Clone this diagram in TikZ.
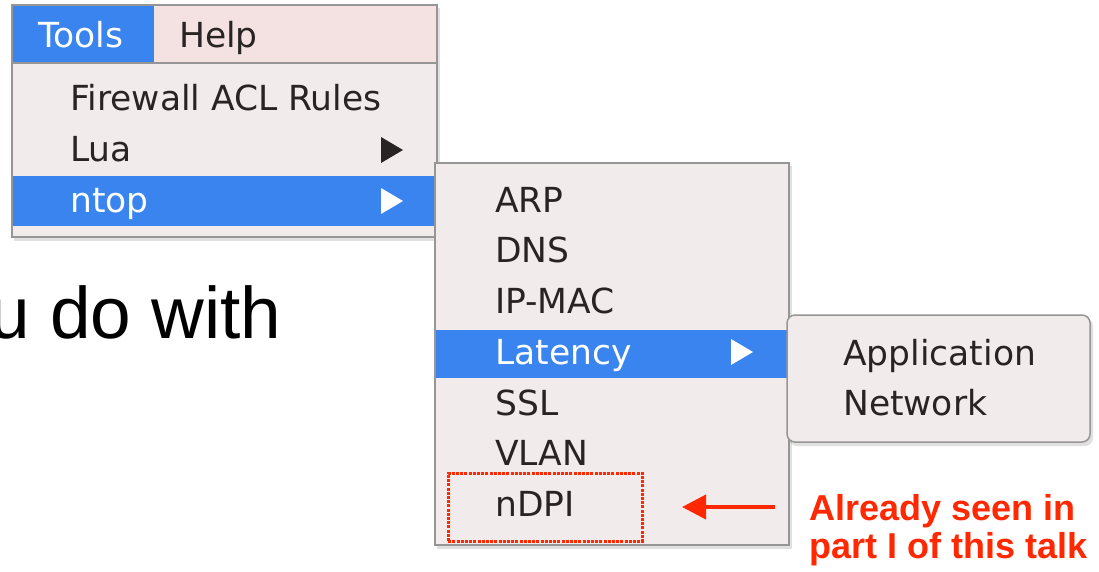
\documentclass[tikz,border=0pt]{standalone}
\usepackage{fontspec}
\setmainfont{DejaVu Sans}
\newfontfamily\arialfont{Liberation Sans}
\usetikzlibrary{arrows.meta}
\definecolor{hl}{RGB}{58,132,240}
\definecolor{menubg}{RGB}{242,235,235}
\definecolor{barbg}{RGB}{244,226,226}
\definecolor{mtext}{RGB}{40,36,36}
\definecolor{mborder}{RGB}{150,150,150}
\definecolor{alert}{RGB}{255,40,0}
\tikzset{
  item/.style={anchor=base west, inner sep=0pt, text=mtext, font=\fontsize{34.5}{38}\selectfont},
  hitem/.style={item, text=white},
  shadowbox/.style={fill=black, opacity=0.12},
  tri/.style={fill=mtext},
  htri/.style={fill=white},
}
\begin{document}
\begin{tikzpicture}[x=1pt,y=-1pt]
\path[use as bounding box] (0,0) rectangle (1099,571);
\fill[white] (0,0) rectangle (1099,571);
\begin{scope}
\clip (0,0) rectangle (1099,571);
\node[anchor=base west, inner sep=0pt, font=\arialfont\fontsize{73}{80}\selectfont] (bodytext) at (-11,338) {u do with};
\end{scope}

% ---- menu 1
\fill[shadowbox] (14,8) rectangle (440,241);
\fill[barbg] (12,5) rectangle (437,63);
\fill[hl] (12,5) rectangle (154,63);
\fill[menubg] (12,63) rectangle (437,237);
\fill[hl] (12,176) rectangle (437,226);
\draw[mborder, line width=1.5pt] (12,63) -- (437,63);
\draw[mborder, line width=1.5pt] (12,5) rectangle (437,237);
\node[hitem] (tools) at (38,47) {Tools};
\node[item] (help) at (179,47) {Help};
\node[item] (firewall) at (70,110) {Firewall ACL Rules};
\node[item] (lua) at (70,161) {Lua};
\node[hitem] (ntop) at (70,212) {ntop};
\fill[tri] (381,137) -- (403,150) -- (381,163) -- cycle;
\fill[htri] (381,188) -- (403,201) -- (381,214) -- cycle;

% ---- menu 2
\fill[shadowbox] (437,166) rectangle (792,549);
\fill[menubg] (435,163) rectangle (789,545);
\fill[hl] (435,330) rectangle (789,378);
\draw[mborder, line width=1.5pt] (435,163) rectangle (789,545);
\node[item] (arp) at (495,212) {ARP};
\node[item] (dns) at (495,262) {DNS};
\node[item] (ipmac) at (495,313) {IP-MAC};
\node[hitem] (latency) at (495,364) {Latency};
\node[item] (ssl) at (495,415) {SSL};
\node[item] (vlan) at (495,465) {VLAN};
\node[item] (ndpi) at (495,516) {nDPI};
\fill[htri] (731,339) -- (753,352) -- (731,365) -- cycle;

% ---- menu 3
\fill[shadowbox, rounded corners=8pt] (789,318) rectangle (1093,446);
\fill[menubg, rounded corners=8pt] (787,315) rectangle (1090,442);
\draw[mborder, line width=1.5pt, rounded corners=8pt] (787,315) rectangle (1090,442);
\node[item] (application) at (843,365) {Application};
\node[item] (network) at (843,415) {Network};

% ---- annotation
\node[draw=alert, line width=2.5pt, dash pattern=on 3pt off 1.2pt, minimum width=194pt, minimum height=68pt, inner sep=0pt, anchor=north west] (ndpibox) at (447,472) {};
\coordinate (arrowstart) at (775,507);
\coordinate (arrowend) at (682,507);
\draw[alert, line width=4pt, -{Triangle[length=24pt, width=24pt]}] (arrowstart) -- (arrowend);
\node[anchor=base west, inner sep=0pt, text=alert, font=\arialfont\bfseries\fontsize{36}{40}\selectfont] (note1) at (809,520) {Already seen in};
\node[anchor=base west, inner sep=0pt, text=alert, font=\arialfont\bfseries\fontsize{36}{40}\selectfont] (note2) at (809,558) {part I of this talk};
\end{tikzpicture}
\end{document}
